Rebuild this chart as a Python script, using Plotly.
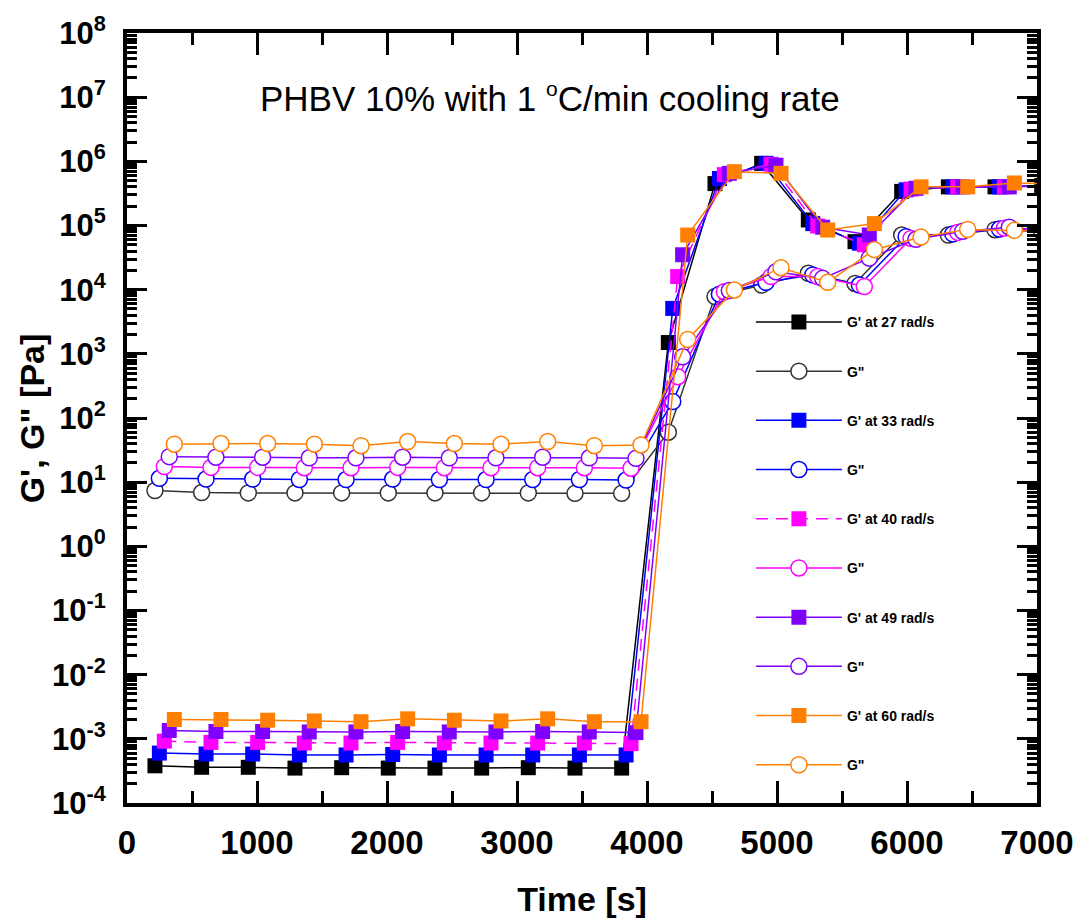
import plotly.graph_objects as go

# ---------------- data ----------------
labels = ["G' at 27 rad/s", 'G"', "G' at 33 rad/s", 'G"', "G' at 40 rad/s", 'G"',
          "G' at 49 rad/s", 'G"', "G' at 60 rad/s", 'G"']
colors = ["#000000", "#0000FF", "#FF00FF", "#8000FF", "#FF8000"]
gpp_line_colors = ["#333333", "#0000FF", "#FF00FF", "#8000FF", "#FF8000"]

t_27 = [215, 574, 933, 1292, 1651, 2010, 2369, 2728, 3087, 3446, 3805, 4164, 4523, 4882, 5241, 5600, 5959, 6318, 6677, 7036]
t_33 = [249, 608, 967, 1326, 1685, 2044, 2403, 2762, 3121, 3480, 3839, 4198, 4557, 4916, 5275, 5634, 5993, 6352, 6711, 7070]
t_40 = [287, 646, 1005, 1364, 1723, 2082, 2441, 2800, 3159, 3518, 3877, 4236, 4595, 4954, 5313, 5672, 6031, 6390, 6749, 7108]
t_49 = [325, 684, 1043, 1402, 1761, 2120, 2479, 2838, 3197, 3556, 3915, 4274, 4633, 4992, 5351, 5710, 6069, 6428, 6787, 7146]
t_60 = [364, 723, 1082, 1441, 1800, 2159, 2518, 2877, 3236, 3595, 3954, 4313, 4672, 5031, 5390, 5749, 6108, 6467, 6826, 7185]

gp_27 = [3.8e-4, 3.6e-4, 3.6e-4, 3.5e-4, 3.55e-4, 3.5e-4, 3.5e-4, 3.5e-4, 3.55e-4, 3.5e-4, 3.5e-4,
         1500, 4.5e5, 9.3e5, 1.22e5, 5.6e4, 3.4e5, 4.0e5, 4.0e5, 4.2e5]
gp_33 = [6.0e-4, 5.8e-4, 5.8e-4, 5.6e-4, 5.6e-4, 5.7e-4, 5.6e-4, 5.6e-4, 5.6e-4, 5.6e-4, 5.6e-4,
         5100, 5.4e5, 9.3e5, 1.07e5, 5.3e4, 3.6e5, 4.0e5, 4.0e5, 4.2e5]
gp_40 = [9.2e-4, 8.8e-4, 8.8e-4, 8.6e-4, 8.6e-4, 8.8e-4, 8.6e-4, 8.6e-4, 8.6e-4, 8.6e-4, 8.4e-4,
         1.6e4, 6.2e5, 9.0e5, 9.8e4, 5.0e4, 3.7e5, 4.0e5, 4.0e5, 4.2e5]
gp_49 = [1.35e-3, 1.3e-3, 1.3e-3, 1.28e-3, 1.28e-3, 1.3e-3, 1.28e-3, 1.28e-3, 1.3e-3, 1.28e-3, 1.25e-3,
         3.5e4, 6.5e5, 8.7e5, 9.4e4, 7.1e4, 3.8e5, 4.0e5, 4.0e5, 4.2e5]
gp_60 = [2.0e-3, 2.0e-3, 1.95e-3, 1.9e-3, 1.85e-3, 2.05e-3, 1.95e-3, 1.9e-3, 2.05e-3, 1.85e-3, 1.85e-3,
         7.1e4, 6.9e5, 6.5e5, 8.5e4, 1.07e5, 4.0e5, 4.0e5, 4.6e5, 4.4e5]

gpp_27 = [7.4, 6.9, 6.8, 6.8, 6.8, 6.8, 6.8, 6.8, 6.8, 6.7, 6.7,
          60, 7.8e3, 1.18e4, 1.8e4, 1.25e4, 7.1e4, 7.1e4, 8.6e4, 8.0e4]
gpp_33 = [11.5, 11.2, 11.2, 11.0, 11.0, 11.2, 11.0, 11.0, 11.0, 11.0, 10.8,
          180, 8.5e3, 1.3e4, 1.7e4, 1.18e4, 6.7e4, 7.4e4, 8.8e4, 8.0e4]
gpp_40 = [17.5, 17.0, 17.0, 16.8, 16.8, 17.0, 16.8, 16.8, 16.8, 16.8, 16.5,
          440, 9.3e3, 1.6e4, 1.6e4, 1.12e4, 6.3e4, 7.8e4, 9.1e4, 8.0e4]
gpp_49 = [25, 24.5, 24.5, 24, 24, 24.5, 24, 24, 24.5, 24, 23.5,
          900, 9.7e3, 1.9e4, 1.5e4, 3.1e4, 6.1e4, 8.1e4, 9.4e4, 8.0e4]
gpp_60 = [39, 40, 40, 39, 37, 43, 40, 39, 43, 37, 38,
          1680, 9.9e3, 2.2e4, 1.3e4, 4.2e4, 6.6e4, 8.7e4, 8.4e4, 8.0e4]

times = [t_27, t_33, t_40, t_49, t_60]
gps = [gp_27, gp_33, gp_40, gp_49, gp_60]
gpps = [gpp_27, gpp_33, gpp_40, gpp_49, gpp_60]
gp_dashes = ["solid", "solid", "12px,8px", "solid", "solid"]

x_ticks = [0, 1000, 2000, 3000, 4000, 5000, 6000, 7000]
y_tickvals = [1e-4, 1e-3, 1e-2, 1e-1, 1e0, 1e1, 1e2, 1e3, 1e4, 1e5, 1e6, 1e7, 1e8]
y_ticktext = ["10<sup>-4</sup>", "10<sup>-3</sup>", "10<sup>-2</sup>", "10<sup>-1</sup>",
              "10<sup>0</sup>", "10<sup>1</sup>", "10<sup>2</sup>", "10<sup>3</sup>",
              "10<sup>4</sup>", "10<sup>5</sup>", "10<sup>6</sup>", "10<sup>7</sup>",
              "10<sup>8</sup>"]

FONT = "Liberation Sans, Arial, sans-serif"

fig = go.Figure()
for i in range(5):
    fig.add_trace(go.Scatter(
        x=times[i], y=gps[i], mode="lines+markers", name=labels[2 * i],
        legendgroup=f"g{2*i}",
        line=dict(color=colors[i], width=1.5, dash=gp_dashes[i]),
        marker=dict(symbol="square", size=15, color=colors[i], line=dict(width=0)),
    ))
    fig.add_trace(go.Scatter(
        x=times[i], y=gpps[i], mode="lines+markers", name=labels[2 * i + 1],
        legendgroup=f"g{2*i+1}",
        line=dict(color=gpp_line_colors[i], width=1.5),
        marker=dict(symbol="circle", size=16, color="white",
                    line=dict(width=1.5, color=gpp_line_colors[i])),
    ))

axis_common = dict(
    showline=True, linewidth=4, linecolor="black", mirror="allticks",
    ticks="inside", tickwidth=3, tickcolor="black", showgrid=False, zeroline=False,
    automargin=False,
)

fig.update_xaxes(
    range=[0, 7000], tickvals=x_ticks, ticklen=22,
    tickfont=dict(family=FONT, size=33, color="black", weight="bold"),
    minor=dict(ticks="inside", ticklen=12, tickwidth=3, tickcolor="black", dtick=500),
    ticklabelstandoff=7,
    title=dict(text="Time [s]", font=dict(family=FONT, size=34, color="black", weight="bold"), standoff=30),
    **axis_common,
)
fig.update_yaxes(
    type="log", range=[-4, 8], tickvals=y_tickvals, ticktext=y_ticktext, ticklen=20,
    tickfont=dict(family=FONT, size=31, color="black", weight="bold"),
    minor=dict(ticks="inside", ticklen=10, tickwidth=3, tickcolor="black", dtick="D1"),
    ticklabelstandoff=11,
    **axis_common,
)

fig.add_annotation(
    text="G', G\" [Pa]", textangle=-90,
    xref="paper", yref="paper", x=-0.104, y=0.5, xanchor="center", yanchor="middle",
    showarrow=False,
    font=dict(family=FONT, size=34, color="black", weight="bold"),
)
fig.add_annotation(
    text="PHBV 10% with 1 <sup><span style='font-size:21px'>o</span></sup>C/min cooling rate",
    xref="paper", yref="paper", x=0.465, y=0.945, showarrow=False,
    font=dict(family=FONT, size=35, color="black"),
)

fig.update_layout(
    width=1076, height=918,
    margin=dict(l=127, r=39, t=33, b=115),
    plot_bgcolor="white", paper_bgcolor="white",
    showlegend=True,
    legend=dict(
        x=0.6856, y=0.645, xanchor="left", yanchor="top",
        bgcolor="rgba(0,0,0,0)", borderwidth=0,
        font=dict(family=FONT, size=14, color="black", weight="bold"),
        tracegroupgap=28, itemwidth=86,
    ),
)

fig.write_html("out.html")
